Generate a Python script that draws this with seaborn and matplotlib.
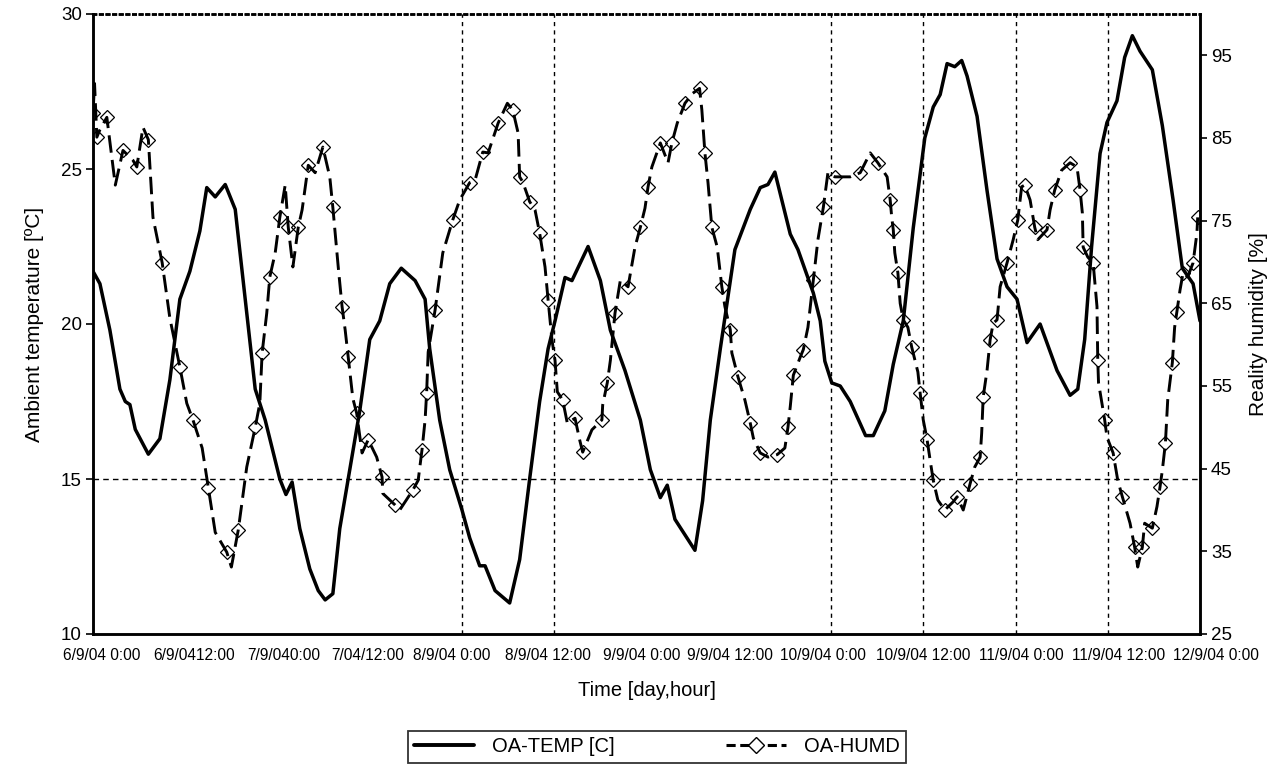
import matplotlib
matplotlib.use("Agg")
import matplotlib.pyplot as plt
import matplotlib.transforms as mtransforms
import seaborn as sns
from matplotlib.lines import Line2D

# ---------------- data ----------------
tick_labels = ["6/9/04 0:00", "6/9/0412:00", "7/9/040:00", "7/04/12:00", "8/9/04 0:00",
               "8/9/04 12:00", "9/9/04 0:00", "9/9/04 12:00", "10/9/04 0:00",
               "10/9/04 12:00", "11/9/04 0:00", "11/9/04 12:00", "12/9/04 0:00"]
tick_hours = [0, 12, 24, 36, 48, 60, 72, 84, 96, 108, 120, 132, 144]

temp_hours = [0.0, 0.9, 2.2, 3.5, 4.2, 4.8, 5.5, 7.2, 8.7, 10.0, 11.3, 12.6, 13.9, 14.8, 15.9,
              17.2, 18.5, 19.8, 21.1, 22.4, 24.3, 25.1, 25.9, 26.9, 28.2, 29.3, 30.2, 31.2,
              32.1, 33.4, 34.7, 36.0, 37.3, 38.6, 40.1, 41.9, 43.2, 43.8, 45.1, 46.4, 48.0,
              49.0, 50.3, 51.0, 52.3, 54.2, 55.5, 56.8, 58.1, 59.2, 60.1, 61.4, 62.3, 64.4,
              66.0, 67.3, 69.2, 71.2, 72.5, 73.8, 74.7, 75.7, 77.0, 78.3, 79.3, 80.3, 81.6,
              83.5, 85.5, 86.8, 87.8, 88.7, 90.7, 91.7, 93.7, 94.6, 95.2, 96.1, 97.2, 98.5,
              100.5, 101.5, 103.0, 104.1, 105.4, 106.7, 108.2, 109.3, 110.2, 111.1, 112.1,
              113.0, 113.7, 115.0, 116.3, 117.6, 118.9, 120.2, 121.5, 123.2, 125.4, 127.1,
              128.1, 129.0, 129.9, 131.0, 131.9, 133.2, 134.2, 135.2, 136.2, 137.8, 139.1,
              140.5, 141.7, 143.1, 144.0]
temp_values = [21.7, 21.3, 19.8, 17.9, 17.5, 17.4, 16.6, 15.8, 16.3, 18.2, 20.8, 21.7, 23.0, 24.4, 24.1,
               24.5, 23.7, 20.8, 17.9, 16.9, 15.0, 14.5, 14.9, 13.4, 12.1, 11.4, 11.1, 11.3,
               13.4, 15.3, 17.2, 19.5, 20.1, 21.3, 21.8, 21.4, 20.8, 19.2, 16.9, 15.3, 14.0,
               13.1, 12.2, 12.2, 11.4, 11.0, 12.4, 15.0, 17.5, 19.2, 20.1, 21.5, 21.4, 22.5,
               21.4, 19.8, 18.5, 16.9, 15.3, 14.4, 14.8, 13.7, 13.2, 12.7, 14.3, 16.9, 19.2,
               22.4, 23.7, 24.4, 24.5, 24.9, 22.9, 22.4, 21.0, 20.1, 18.8, 18.1, 18.0, 17.5,
               16.4, 16.4, 17.2, 18.7, 20.1, 23.1, 26.0, 27.0, 27.4, 28.4, 28.3,
               28.5, 28.0, 26.7, 24.3, 22.1, 21.2, 20.8, 19.4, 20.0, 18.5, 17.7,
               17.9, 19.5, 22.5, 25.5, 26.5, 27.2, 28.6, 29.3, 28.8, 28.2, 26.4,
               24.0, 21.8, 21.3, 20.1]

humd_hours = [0.0, 0.2, 0.5, 0.9, 1.8, 2.9, 3.9, 5.2, 5.7, 6.5, 7.2, 7.8, 9.0, 10.0, 11.3, 12.2,
              13.0, 14.2, 15.0, 15.9, 17.4, 18.0, 18.9, 20.0, 21.1, 21.7, 22.0, 22.6, 23.0,
              23.7, 24.3, 25.0, 25.4, 26.0, 26.7, 27.2, 28.0, 28.9, 29.9, 30.8, 31.2, 31.9,
              32.4, 32.8, 33.2, 33.8, 34.3, 35.0, 35.8, 36.9, 37.6, 37.7, 39.3, 39.9, 41.6,
              42.3, 42.8, 43.2, 43.4, 43.6, 44.5, 45.5, 46.8, 47.7, 49.0, 49.7, 50.7, 51.4,
              52.7, 53.9, 54.6, 55.3, 55.5, 55.9, 56.8, 57.5, 58.1, 58.8, 59.2, 59.7, 60.1,
              60.4, 61.1, 61.7, 62.7, 63.3, 63.7, 64.9, 66.2, 66.3, 66.9, 67.3, 67.9, 68.6,
              69.6, 70.5, 71.2, 71.8, 72.2, 72.7, 73.8, 74.8, 75.3, 76.0, 77.0, 78.0, 78.9,
              79.2, 79.6, 80.0, 80.5, 81.2, 81.8, 82.2, 82.9, 83.1, 83.9, 84.8, 85.5, 85.9,
              86.8, 87.8, 89.0, 90.0, 90.4, 90.7, 91.1, 92.0, 92.4, 93.0, 93.7, 94.3, 95.0,
              95.6, 96.5, 98.5, 99.8, 101.1, 102.1, 103.3, 103.7, 103.9, 104.1, 104.3, 104.7,
              105.0, 105.4, 106.0, 106.5, 107.3, 107.6, 108.0, 108.5, 108.9, 109.3, 109.9,
              110.8, 111.9, 112.4, 113.2, 114.1, 114.7, 115.4, 115.6, 115.8, 116.3, 116.7,
              117.1, 117.6, 118.0, 118.9, 119.7, 120.3, 120.8, 121.2, 121.9, 122.5, 122.9,
              124.1, 124.5, 125.1, 126.0, 127.1, 128.0, 128.4, 128.7, 128.8, 129.4, 130.1,
              130.6, 130.7, 130.8, 131.6, 131.9, 132.7, 133.3, 133.9, 134.9, 135.5, 135.9,
              136.5, 136.8, 137.8, 138.4, 138.8, 139.1, 139.5, 139.8, 140.4, 140.7, 141.0,
              141.4, 141.8, 142.4, 143.1, 143.6, 143.7]
humd_values = [88.0, 91.6, 85.1, 86.0, 87.5, 79.3, 83.5, 82.3, 81.5, 86.3, 84.8, 75.4, 69.9, 63.2, 57.3, 52.9,
               50.9, 47.5, 42.7, 37.3, 34.9, 33.1, 37.6, 45.2, 50.0, 52.9, 59.0, 63.8, 68.2,
               71.1, 75.4, 79.3, 74.2, 69.4, 74.2, 76.3, 81.7, 80.8, 83.9, 80.3, 76.6, 69.4,
               64.6, 61.8, 58.5, 53.5, 51.7, 46.9, 48.5, 46.4, 44.0, 42.0, 40.6, 40.0, 42.4,
               43.6, 47.3, 50.9, 54.2, 59.1, 64.2, 71.1, 75.1, 77.5, 79.6, 79.9, 83.3, 83.2,
               86.8, 89.2, 88.4, 85.6, 80.3, 79.7, 77.3, 76.3, 73.5, 69.4, 65.4, 60.6, 58.1,
               54.3, 53.3, 50.5, 51.1, 48.5, 47.0, 49.7, 50.9, 52.7, 55.4, 58.1, 63.8, 67.8,
               67.0, 71.8, 74.2, 76.5, 79.1, 81.5, 84.4, 82.0, 84.4, 86.8, 89.2, 90.4, 91.0,
               88.4, 83.2, 79.6, 74.2, 71.8, 67.0, 64.6, 61.8, 59.0, 56.1, 53.3, 50.5, 48.7,
               46.9, 46.4, 46.7, 47.5, 50.0, 52.5, 56.3, 58.5, 59.4, 62.1, 67.8, 72.7, 76.6,
               80.8, 80.3, 80.3, 80.8, 83.2, 82.0, 80.3, 77.5, 75.4, 73.9, 71.1, 68.7,
               65.0, 63.0, 62.1, 59.7, 56.7, 54.1, 50.9, 48.5, 46.0, 43.6, 41.2,
               40.0, 41.0, 41.6, 40.0, 43.2, 45.2, 46.4, 49.3, 53.7, 56.9, 60.6,
               62.6, 63.0, 67.0, 69.9, 72.7, 75.1, 79.1, 79.3, 77.5, 74.2, 72.7,
               73.9, 76.3, 78.7, 81.1, 82.0, 81.5, 78.7, 75.9, 71.8, 70.6, 69.9,
               64.6, 58.1, 55.4, 50.9, 48.8, 46.9, 43.6, 41.6, 38.4, 35.5, 33.1,
               35.5, 38.4, 37.8, 40.4, 42.8, 44.8, 48.1, 53.3, 57.8, 62.1, 64.0,
               66.6, 68.7, 68.2, 69.9, 73.5, 75.4]

ref_temp_lines = [15]
ref_hour_lines = [48, 60, 96, 108, 120, 132]

# ---------------- figure ----------------
sns.set_theme(style="white")
plt.rcParams["font.family"] = ["Liberation Sans", "DejaVu Sans"]
for k in ("text.color", "axes.labelcolor", "xtick.color", "ytick.color", "axes.edgecolor"):
    plt.rcParams[k] = "black"

fig = plt.figure(figsize=(12.81, 7.68), dpi=100)
ax = fig.add_axes([93 / 1281, 1 - 634 / 768, 1107 / 1281, 620 / 768])

for h in ref_hour_lines:
    ax.axvline(h, color="black", lw=1.0, linestyle=(0, (3, 3)), zorder=1)
for t in ref_temp_lines:
    ax.axhline(t, color="black", lw=1.0, linestyle=(0, (4, 3)), zorder=1)

sns.lineplot(x=temp_hours, y=temp_values, ax=ax, color="black", lw=2.5,
             sort=False, estimator=None, zorder=3, solid_joinstyle="round",
             solid_capstyle="round")
ax.set_xlim(0, 144)
ax.set_ylim(10, 30)
ax.set_yticks([10, 15, 20, 25, 30])
ax.set_xticks(tick_hours)
ax.set_xticklabels(tick_labels, fontsize=11.2)
ax.tick_params(axis="x", direction="in", length=6, width=1.2, pad=10)
ax.tick_params(axis="y", direction="out", length=5, width=1.2, labelsize=13.5, pad=3)
ax.set_xlabel("Time [day,hour]", fontsize=14.5, labelpad=13)
ax.set_ylabel("Ambient temperature [ºC]", fontsize=15, labelpad=12)

# small per-label horizontal nudges (pixels) to follow the reference's label placement
label_nudge_px = [9, 9, 6, -2, -10, -6, -5, -9, -8, 0, 6, 11, 16]
for lab, dx in zip(ax.get_xticklabels(), label_nudge_px):
    lab.set_transform(lab.get_transform() +
                      mtransforms.ScaledTranslation(dx / 100, 0, fig.dpi_scale_trans))

ax2 = ax.twinx()
sns.lineplot(x=humd_hours, y=humd_values, ax=ax2, color="black", lw=2.1,
             sort=False, estimator=None, linestyle=(0, (6, 2.5)),
             marker="D", markevery=2, markersize=7.5, markerfacecolor="none",
             markeredgecolor="black", markeredgewidth=0.9, zorder=3)
ax2.set_ylim(25, 100)
ax2.set_yticks([25, 35, 45, 55, 65, 75, 85, 95])
ax2.tick_params(axis="y", direction="out", length=5, width=1.2, labelsize=13.5, pad=3)
ax2.set_ylabel("Reality humidity [%]", fontsize=15, labelpad=12)

for a in (ax, ax2):
    for name, sp in a.spines.items():
        sp.set_color("black")
        sp.set_linewidth(1.8)
    a.spines["top"].set_linestyle(":")
    a.spines["top"].set_linewidth(1.8)

handles = [Line2D([], [], color="black", lw=2.8),
           Line2D([], [], color="black", lw=2.2, linestyle=(0, (3, 1.5)), marker="D",
                  markersize=8, markerfacecolor="white", markeredgecolor="black")]
leg = fig.legend(handles, ["OA-TEMP [C]", "OA-HUMD"], loc="center",
                 bbox_to_anchor=(657 / 1281, 1 - 747 / 768), ncol=2, frameon=True,
                 fancybox=False, edgecolor="black", fontsize=14.5, handlelength=3.0,
                 columnspacing=5.5, borderpad=0.3, handletextpad=0.9, borderaxespad=0)
leg.get_frame().set_linewidth(1.3)

fig.savefig("out.png", dpi=100)
